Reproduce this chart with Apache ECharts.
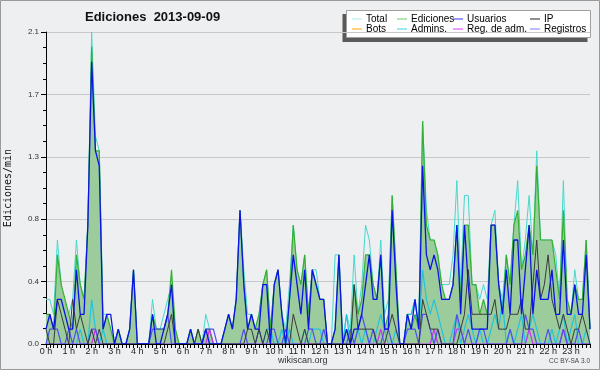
<!DOCTYPE html>
<html><head><meta charset="utf-8">
<script src="https://cdn.jsdelivr.net/npm/echarts@6/dist/echarts.min.js"></script>
<style>html,body{margin:0;padding:0;background:#eeeff1}#c{width:600px;height:370px}</style>
</head><body><div id="c"></div>
<script>
// Tick labels (one per hour)
const hourLabels = ['0 h','1 h','2 h','3 h','4 h','5 h','6 h','7 h','8 h','9 h','10 h','11 h','12 h','13 h','14 h','15 h','16 h','17 h','18 h','19 h','20 h','21 h','22 h','23 h'];
const yTicks = [0, 0.42, 0.84, 1.26, 1.68, 2.1];
// 10-minute bins, edits per minute
const total = [
 0.3,0.3,0.2,0.7,0.4,0.2, 0.2,0.3,0.7,0.4,0.3,0.8, 2.1,1.4,1.3,0.2,0.2,0.1, 0,0.1,0,0,0.1,0.5,
 0,0,0,0,0.3,0.1, 0.1,0.2,0.3,0.4,0.1,0, 0,0,0.1,0,0.1,0, 0.2,0.1,0,0,0,0.1,
 0.2,0.1,0.3,0.9,0.5,0.2, 0.2,0.1,0.2,0.4,0.5,0.1, 0.4,0.5,0.2,0.1,0.4,0.8, 0.5,0.4,0.6,0.2,0.5,0.5,
 0.3,0.3,0,0,0.6,0.6, 0,0.2,0.1,0.6,0.2,0.4, 0.8,0.7,0.4,0.3,0.7,0.2, 0.3,1.0,0.5,0,0,0.2,
 0.2,0.3,0.1,1.5,0.9,0.7, 0.7,0.6,0.4,0.4,0.4,0.6, 1.1,0.4,1.0,1.0,0.4,0.4, 0.3,0.4,0.3,0.8,0.9,0.4,
 0.3,0.6,0.4,0.8,1.1,0.5, 0.7,1.0,0.6,1.3,0.7,0.7, 0.7,0.7,0.6,0.3,1.1,0.3, 0.2,0.5,0.3,0.3,0.7,0.1];
const ediciones = [
 0.2,0.2,0.1,0.6,0.4,0.3, 0.2,0.1,0.6,0.4,0.3,0.8, 2.0,1.3,1.3,0.1,0.2,0.1, 0,0.1,0,0,0.1,0.5,
 0,0,0,0,0.2,0.1, 0.1,0.1,0.2,0.5,0.1,0, 0,0,0.1,0,0.1,0, 0.1,0.1,0,0,0,0.1,
 0.2,0.1,0.3,0.9,0.4,0.1, 0.2,0.1,0.2,0.4,0.5,0.1, 0.4,0.5,0.2,0,0.3,0.8, 0.5,0.4,0.6,0.2,0.5,0.4,
 0.3,0.3,0,0,0.1,0.6, 0,0.1,0,0.4,0.2,0.3, 0.6,0.6,0.4,0.3,0.6,0.1, 0.2,1.0,0.5,0,0,0.2,
 0.1,0.2,0.1,1.5,0.8,0.7, 0.7,0.6,0.4,0.3,0.3,0.4, 0.8,0.3,0.8,0.8,0.4,0.4, 0.2,0.3,0.2,0.8,0.8,0.4,
 0.2,0.6,0.4,0.8,0.9,0.5, 0.6,0.8,0.6,1.2,0.7,0.7, 0.7,0.7,0.5,0.3,0.9,0.3, 0.2,0.4,0.3,0.3,0.7,0.1];
const usuarios = [
 0.1,0.2,0.1,0.3,0.3,0.2, 0.1,0.1,0.5,0.2,0.2,0.8, 1.9,1.3,1.2,0.1,0.2,0.2, 0,0.1,0,0,0.1,0.5,
 0,0,0,0,0.2,0, 0,0.1,0.2,0.4,0,0, 0,0,0.1,0,0,0, 0.1,0,0,0,0,0.1,
 0.2,0.1,0.3,0.9,0.4,0.1, 0.2,0.1,0.1,0.4,0.4,0, 0.4,0.5,0.2,0,0.3,0.6, 0.4,0.2,0.5,0.1,0.5,0.4,
 0.3,0.3,0,0,0.1,0.6, 0,0.1,0,0.1,0.1,0.2, 0.4,0.6,0.3,0.3,0.6,0.1, 0.1,0.9,0.4,0,0,0.2,
 0.1,0.3,0.1,1.2,0.6,0.5, 0.6,0.5,0.3,0.3,0.3,0.4, 0.8,0.2,0.8,0.4,0.1,0.1, 0.1,0.1,0.1,0.8,0.8,0.4,
 0.2,0.5,0.2,0.7,0.7,0.2, 0.5,0.8,0.2,0.5,0.3,0.3, 0.3,0.5,0.2,0.2,0.7,0.2, 0.2,0.4,0.2,0.2,0.6,0.1];
const ip = [
 0.1,0,0,0.3,0.2,0.1, 0,0.3,0.1,0.2,0.1,0, 0.1,0,0.1,0,0,0, 0,0,0,0,0,0,
 0,0,0,0,0,0, 0,0,0.1,0.2,0,0, 0,0,0,0,0.1,0, 0,0,0,0,0,0,
 0,0,0,0,0,0.1, 0.1,0,0.1,0,0.1,0, 0,0,0,0,0,0.2, 0.1,0,0.1,0,0,0,
 0,0,0,0,0,0, 0,0,0,0.4,0.1,0.1, 0.1,0.1,0.1,0,0,0, 0.1,0.2,0.1,0,0,0,
 0,0,0,0.3,0.2,0.1, 0.1,0.1,0,0,0,0, 0,0.1,0.2,0.5,0.2,0.2, 0.2,0.2,0.2,0.2,0.3,0.1,
 0.1,0.1,0.2,0.2,0.2,0.3, 0.1,0.1,0.4,0.7,0.3,0.4, 0.6,0.3,0.2,0.1,0.2,0.1, 0,0.1,0.1,0.2,0.1,0];
const bots = [
 0,0,0,0,0,0, 0,0,0,0,0,0, 0,0,0,0,0,0, 0,0,0,0,0,0,
 0,0,0,0,0,0, 0,0,0,0,0,0, 0,0,0,0,0,0, 0,0,0,0,0,0,
 0,0,0,0,0,0, 0,0,0,0,0,0, 0,0,0,0,0,0, 0,0,0,0,0,0,
 0,0,0,0,0,0, 0,0,0,0,0,0, 0,0,0,0,0,0, 0,0,0,0,0,0,
 0,0,0,0,0,0, 0,0,0,0,0,0, 0,0,0,0,0,0, 0,0,0,0,0,0,
 0,0,0,0,0,0, 0,0,0,0,0,0, 0,0,0,0,0,0, 0,0,0,0,0,0];
const admins = [
 0,0,0,0,0,0, 0,0,0,0.1,0,0, 0.3,0.1,0,0.1,0,0, 0,0,0,0,0,0,
 0,0,0,0,0,0, 0,0,0,0,0,0, 0,0,0,0,0,0, 0,0,0,0,0,0,
 0,0,0,0,0,0, 0,0,0,0,0.1,0.1, 0,0,0.1,0,0.1,0, 0,0,0.1,0,0.1,0.1,
 0.1,0,0,0,0,0, 0,0.2,0,0,0.1,0, 0.1,0,0,0.1,0.2,0.1, 0,0,0.1,0,0,0.2,
 0.2,0.3,0.1,0.5,0.3,0.2, 0.3,0.2,0.1,0,0,0.1, 0.2,0,0.1,0.2,0.1,0, 0.1,0,0,0.1,0.2,0.1,
 0.3,0,0.1,0,0.1,0.2, 0,0.1,0.2,0.1,0,0, 0,0.1,0,0.1,0.2,0, 0.1,0.2,0,0,0.1,0];
const regAdm = [
 0,0,0,0,0,0, 0,0,0,0,0,0, 0,0.1,0,0,0,0, 0,0,0,0,0,0,
 0,0,0,0,0,0, 0,0,0,0,0,0, 0,0,0,0,0,0, 0,0.1,0,0,0,0,
 0,0,0,0,0,0, 0,0,0,0,0,0, 0,0,0,0,0,0, 0,0,0,0,0,0,
 0,0,0,0,0,0, 0,0,0,0,0,0, 0,0,0,0,0.1,0, 0,0,0,0,0,0,
 0,0,0,0,0,0, 0.1,0,0,0,0,0, 0.1,0.1,0,0,0,0, 0,0,0,0,0,0,
 0,0,0,0,0,0, 0,0.1,0,0,0,0, 0,0,0,0,0.1,0, 0,0,0,0,0,0];
const registros = [
 0,0.1,0.1,0.1,0,0, 0.1,0,0.1,0,0,0, 0.1,0.1,0,0,0,0, 0,0,0,0,0,0,
 0,0,0,0,0.1,0.1, 0.1,0.1,0.2,0,0,0, 0,0,0,0,0,0, 0.1,0.1,0.1,0,0,0,
 0,0,0,0,0.1,0, 0,0,0.1,0,0,0.1, 0.1,0,0,0.1,0,0, 0,0,0,0.1,0.1,0,
 0,0.1,0,0,0,0, 0,0,0.1,0,0.1,0.2, 0.1,0,0.1,0,0,0.1, 0.1,0,0,0,0,0.1,
 0.1,0.1,0,0.2,0.2,0.1, 0,0.1,0,0,0,0, 0.2,0.1,0,0.1,0,0, 0.1,0.1,0,0,0,0,
 0,0,0.1,0,0,0, 0.2,0.1,0.1,0,0,0, 0.1,0,0,0,0.1,0, 0,0,0.1,0,0,0];

const categories = [];
for (let h = 0; h < 24; h++) for (let m = 0; m < 60; m += 10) categories.push(h + ':' + (m < 10 ? '0' : '') + m);

const chart = echarts.init(document.getElementById('c'), null, {renderer: 'canvas'});
const F = 'Liberation Sans, Arial, sans-serif';
function leg(name, color, left, top) {
  return {show: true, data: [{name: name, itemStyle: {color: color}}], left: left, top: top, padding: 0,
    icon: 'rect', itemWidth: 10, itemHeight: 1, selectedMode: false,
    textStyle: {fontFamily: F, fontSize: 10, color: '#000', padding: [0, 0, 0, -1]}};
}
function line(name, data, color, width, z) {
  return {name: name, type: 'line', data: data, symbol: 'none', showSymbol: false, z: z,
    lineStyle: {color: color, width: width}, itemStyle: {color: color}, animation: false};
}
chart.setOption({
  backgroundColor: '#eeeff1',
  animation: false,
  title: {text: 'Ediciones  2013-09-09', left: 85, top: 11, padding: 0,
    textStyle: {fontFamily: F, fontWeight: 'bold', fontSize: 13, color: '#111'}},
  legend: [
    leg('Total', '#a8ecec', 352, 14), leg('Bots', '#ffa500', 352, 24),
    leg('Ediciones', '#66cc66', 397, 14), leg('Admins.', '#33d6e6', 397, 24),
    leg('Usuarios', '#3333ff', 453, 14), leg('Reg. de adm.', '#dd33ff', 453, 24),
    leg('IP', '#222222', 530, 14), leg('Registros', '#7777ff', 530, 24)
  ],
  grid: {left: 46, right: 10, top: 32, bottom: 26, show: false, containLabel: false, outerBoundsMode: 'none'},
  xAxis: {type: 'category', data: categories, boundaryGap: false, z: 5,
    axisLine: {lineStyle: {color: '#000', width: 1}},
    axisTick: {show: true, interval: 0, length: 4, lineStyle: {color: '#000'}},
    axisLabel: {interval: function (i) { return i % 6 === 0; }, margin: 3,
      formatter: function (v, i) { return hourLabels[Math.floor(i / 6)]; },
      fontFamily: F, fontSize: 9, color: '#222'},
    splitLine: {show: false}},
  yAxis: {type: 'value', min: yTicks[0], max: yTicks[yTicks.length - 1], interval: yTicks[1] - yTicks[0],
    name: 'Ediciones/min', nameLocation: 'middle', nameGap: 33, nameRotate: 90,
    nameTextStyle: {fontFamily: 'DejaVu Sans Mono', fontSize: 10, color: '#111'},
    axisLine: {show: true, lineStyle: {color: '#000'}},
    axisTick: {show: true, length: 5, lineStyle: {color: '#000'}},
    minorTick: {show: true, splitNumber: 4, length: 3, lineStyle: {color: '#000'}},
    axisLabel: {margin: 7, fontFamily: F, fontSize: 8, color: '#333',
      formatter: function (v) { return v.toFixed(1); }},
    splitLine: {show: true, lineStyle: {color: '#c8c8c8', width: 1}}},
  series: [
    line('Total', total, '#46d8cc', 1, 2),
    Object.assign(line('Ediciones', ediciones, '#33b033', 1.2, 3), {areaStyle: {color: '#9ccb9c', opacity: 1}}),
    line('Bots', bots, '#ffa500', 1, 1),
    line('Admins.', admins, '#22c4dc', 1.2, 4),
    line('Reg. de adm.', regAdm, '#cc33ee', 1.2, 4),
    line('Registros', registros, '#5050ee', 1.2, 4),
    line('IP', ip, '#3a3a3a', 1, 4),
    line('Usuarios', usuarios, '#0a14e6', 1.3, 4)
  ],
  graphic: [
    {type: 'rect', z: -1, silent: true, shape: {x: 0.5, y: 0.5, width: 599, height: 369}, style: {fill: 'none', stroke: '#9a9a9a', lineWidth: 1}},
    {type: 'rect', z: 0, silent: true, shape: {x: 342.5, y: 14, width: 245, height: 28}, style: {fill: '#5a5a5a'}},
    {type: 'rect', z: 0, silent: true, shape: {x: 346.5, y: 10.5, width: 244, height: 27}, style: {fill: '#ffffff', stroke: '#a0a0a0', lineWidth: 1}},
    {type: 'text', z: 10, left: 278, top: 356, style: {text: 'wikiscan.org', font: '9px Liberation Sans', fill: '#333'}},
    {type: 'text', z: 10, right: 10, top: 358, style: {text: 'CC BY-SA 3.0', font: '6.5px Liberation Sans', fill: '#444'}}
  ]
});
</script></body></html>
